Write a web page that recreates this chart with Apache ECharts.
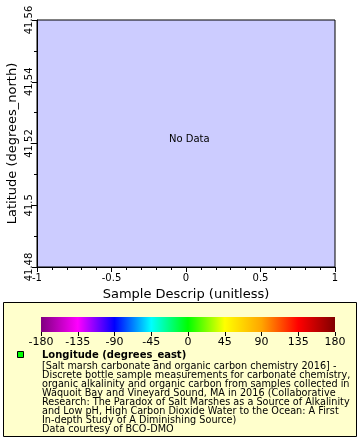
<!DOCTYPE html>
<html><head><meta charset="utf-8">
<script src="https://cdn.jsdelivr.net/npm/echarts@6/dist/echarts.min.js"></script>
<style>html,body{margin:0;padding:0;background:#fff}#c{width:360px;height:440px}</style>
</head><body><div id="c"></div>
<script>
const xTicks = [-1, -0.5, 0, 0.5, 1];
const yTicks = [41.48, 41.5, 41.52, 41.54, 41.56];
const cbTicks = [-180, -135, -90, -45, 0, 45, 90, 135, 180];
const cbColors = ['#800080', '#ff00ff', '#0000ff', '#00ffff', '#00ff00', '#ffff00', '#ffa500', '#ff0000', '#800000'];
const legendTitle = 'Longitude (degrees_east)';
const legendLines = [
  '[Salt marsh carbonate and organic carbon chemistry 2016] -',
  'Discrete bottle sample measurements for carbonate chemistry,',
  'organic alkalinity and organic carbon from samples collected in',
  'Waquoit Bay and Vineyard Sound, MA in 2016 (Collaborative',
  'Research: The Paradox of Salt Marshes as a Source of Alkalinity',
  'and Low pH, High Carbon Dioxide Water to the Ocean: A First',
  'In-depth Study of A Diminishing Source)',
  'Data courtesy of BCO-DMO'
];
const font = 'DejaVu Sans';
const chart = echarts.init(document.getElementById('c'), null, {renderer: 'canvas'});
const axisLine = {show: true, onZero: false, lineStyle: {color: '#000', width: 1}};
chart.setOption({
  animation: false,
  textStyle: {fontFamily: font},
  grid: [
    {left: 37, top: 20, width: 298, height: 247, show: true, backgroundColor: '#ccccff', borderColor: '#000', borderWidth: 1, containLabel: false, outerBoundsMode: 'none'},
    {left: 41, top: 317, width: 294, height: 15, show: false, containLabel: false, outerBoundsMode: 'none'}
  ],
  xAxis: [
    {gridIndex: 0, type: 'value', min: xTicks[0], max: xTicks[xTicks.length - 1], interval: 0.5,
     axisLine: axisLine, axisTick: {show: true, length: 5, lineStyle: {color: '#000'}},
     minorTick: {show: true, splitNumber: 5, length: 3, lineStyle: {color: '#000'}},
     splitLine: {show: false},
     axisLabel: {color: '#000', fontSize: 10, fontFamily: font, margin: 6, formatter: v => String(v)},
     name: 'Sample Descrip (unitless)', nameLocation: 'middle', nameGap: 20,
     nameTextStyle: {color: '#000', fontSize: 13, fontFamily: font}},
    {gridIndex: 1, type: 'value', min: cbTicks[0], max: cbTicks[cbTicks.length - 1], interval: 45,
     axisLine: {show: false, onZero: false}, axisTick: {show: true, length: 4, inside: false, lineStyle: {color: '#000'}},
     splitLine: {show: false},
     axisLabel: {color: '#000', fontSize: 11, fontFamily: font, margin: 5}}
  ],
  yAxis: [
    {gridIndex: 0, type: 'value', min: yTicks[0], max: yTicks[yTicks.length - 1], interval: 0.02,
     axisLine: axisLine, axisTick: {show: true, length: 5, lineStyle: {color: '#000'}},
     minorTick: {show: true, splitNumber: 2, length: 3, lineStyle: {color: '#000'}},
     splitLine: {show: false},
     axisLabel: {color: '#000', fontSize: 10, fontFamily: font, rotate: 90, margin: 3, formatter: v => String(+v.toFixed(2))},
     name: 'Latitude (degrees_north)', nameLocation: 'middle', nameGap: 18, nameMoveOverlap: false,
     nameTextStyle: {color: '#000', fontSize: 13, fontFamily: font}},
    {gridIndex: 1, type: 'value', show: false, min: 0, max: 1}
  ],
  series: [],
  graphic: [
    {type: 'text', left: 169, top: 134, style: {text: 'No Data', fill: '#000', font: '10px "DejaVu Sans"'}},
    {type: 'rect', shape: {x: 3.5, y: 302.5, width: 353, height: 134}, style: {fill: '#ffffcc', stroke: '#000', lineWidth: 1}, z: -1},
    {type: 'rect', shape: {x: 41, y: 317, width: 294, height: 15},
     style: {fill: new echarts.graphic.LinearGradient(0, 0, 1, 0, cbColors.map((c, i) => ({offset: i / (cbColors.length - 1), color: c})))}},
    {type: 'rect', shape: {x: 17.5, y: 351.5, width: 6, height: 6}, style: {fill: '#00ff00', stroke: '#000', lineWidth: 1}},
    {type: 'text', left: 42, top: 350, style: {text: legendTitle, fill: '#000', font: 'bold 10px "DejaVu Sans"'}},
    {type: 'text', left: 42, top: 361, style: {text: legendLines.join('\n'), fill: '#000', font: '9.7px "DejaVu Sans"', lineHeight: 9}}
  ]
});
</script></body></html>
